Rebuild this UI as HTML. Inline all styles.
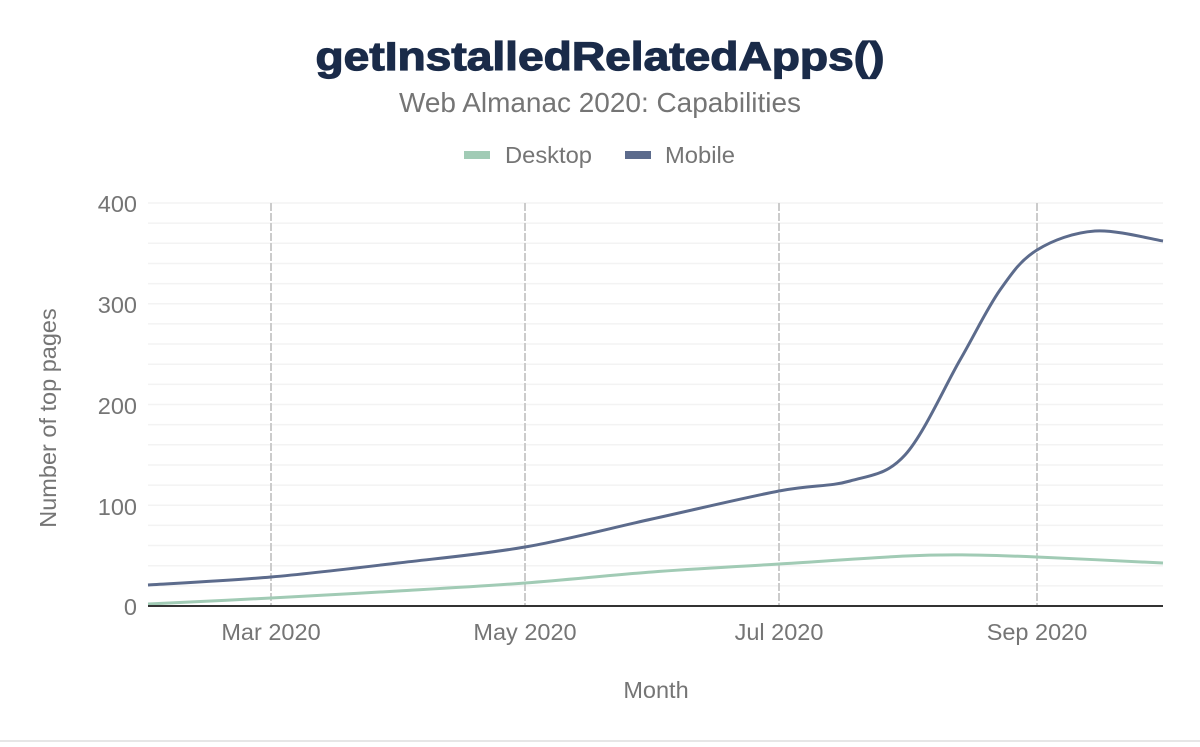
<!DOCTYPE html>
<html><head><meta charset="utf-8"><style>
body{margin:0;background:#fff;width:1200px;height:742px;overflow:hidden;font-family:"Liberation Sans",sans-serif}
</style></head><body>
<svg width="1200" height="742" xmlns="http://www.w3.org/2000/svg" font-family="Liberation Sans, sans-serif">
<text x="600" y="70" text-anchor="middle" font-size="40" font-weight="bold" fill="#1a2b49" textLength="569" lengthAdjust="spacingAndGlyphs" stroke="#1a2b49" stroke-width="1.2">getInstalledRelatedApps()</text>
<text x="600" y="112" text-anchor="middle" font-size="28" fill="#757575" textLength="402" lengthAdjust="spacingAndGlyphs">Web Almanac 2020: Capabilities</text>
<rect x="464" y="151" width="26" height="8" fill="#a1cbb5"/>
<text x="505" y="163" font-size="23.5" fill="#757575" textLength="87" lengthAdjust="spacingAndGlyphs">Desktop</text>
<rect x="625" y="151" width="26" height="8" fill="#5c6b8c"/>
<text x="665" y="163" font-size="23.5" fill="#757575" textLength="70" lengthAdjust="spacingAndGlyphs">Mobile</text>
<g id="grid" stroke="#f3f3f3" stroke-width="1.5"></g>
<g stroke="#ccc" stroke-width="2" stroke-dasharray="8,2">
<line x1="271" y1="203" x2="271" y2="606"/><line x1="525" y1="203" x2="525" y2="606"/>
<line x1="779" y1="203" x2="779" y2="606"/><line x1="1037" y1="203" x2="1037" y2="606"/>
</g>
<g font-size="23.5" fill="#757575" text-anchor="end">
<text x="137" y="212">400</text><text x="137" y="313">300</text><text x="137" y="414">200</text><text x="137" y="515">100</text><text x="137" y="615">0</text>
</g>
<g font-size="23.5" fill="#757575" text-anchor="middle">
<text x="271" y="640">Mar 2020</text><text x="525" y="640">May 2020</text><text x="779" y="640">Jul 2020</text><text x="1037" y="640">Sep 2020</text>
<text x="656" y="698">Month</text>
</g>
<text transform="translate(56,418) rotate(-90)" font-size="23.5" fill="#757575" text-anchor="middle">Number of top pages</text>
<path id="d" fill="none" stroke="#a1cbb5" stroke-width="3"/>
<path id="m" fill="none" stroke="#5c6b8c" stroke-width="3"/>
<line x1="148" y1="606" x2="1163" y2="606" stroke="#333" stroke-width="2"/>
<line x1="0" y1="741" x2="1200" y2="741" stroke="#ccc" stroke-width="1"/>
</svg>
<script>
var g=document.getElementById('grid'),s='';
for(var i=0;i<20;i++){var y=203+i*20.15;s+='<line x1="148" x2="1163" y1="'+y+'" y2="'+y+'"/>';}
g.innerHTML=s;
function cr(p){var d='M'+p[0][0]+','+p[0][1];for(var i=0;i<p.length-1;i++){var a=p[i-1]||p[i],b=p[i],c=p[i+1],e=p[i+2]||c;
d+=' C'+(b[0]+(c[0]-a[0])/6)+','+(b[1]+(c[1]-a[1])/6)+' '+(c[0]-(e[0]-b[0])/6)+','+(c[1]-(e[1]-b[1])/6)+' '+c[0]+','+c[1];}return d;}
document.getElementById('m').setAttribute('d',cr([[148,585],[271,577],[398,563],[525,547],[652,519],[779,491],[850,481],[905,455],[960,360],[1000,290],[1037,250],[1095,231],[1163,241]]));
document.getElementById('d').setAttribute('d',cr([[148,604],[271,598],[398,591],[525,583],[652,572],[779,564],[906,556],[970,555],[1037,557],[1163,563]]));
</script>
</body></html>
